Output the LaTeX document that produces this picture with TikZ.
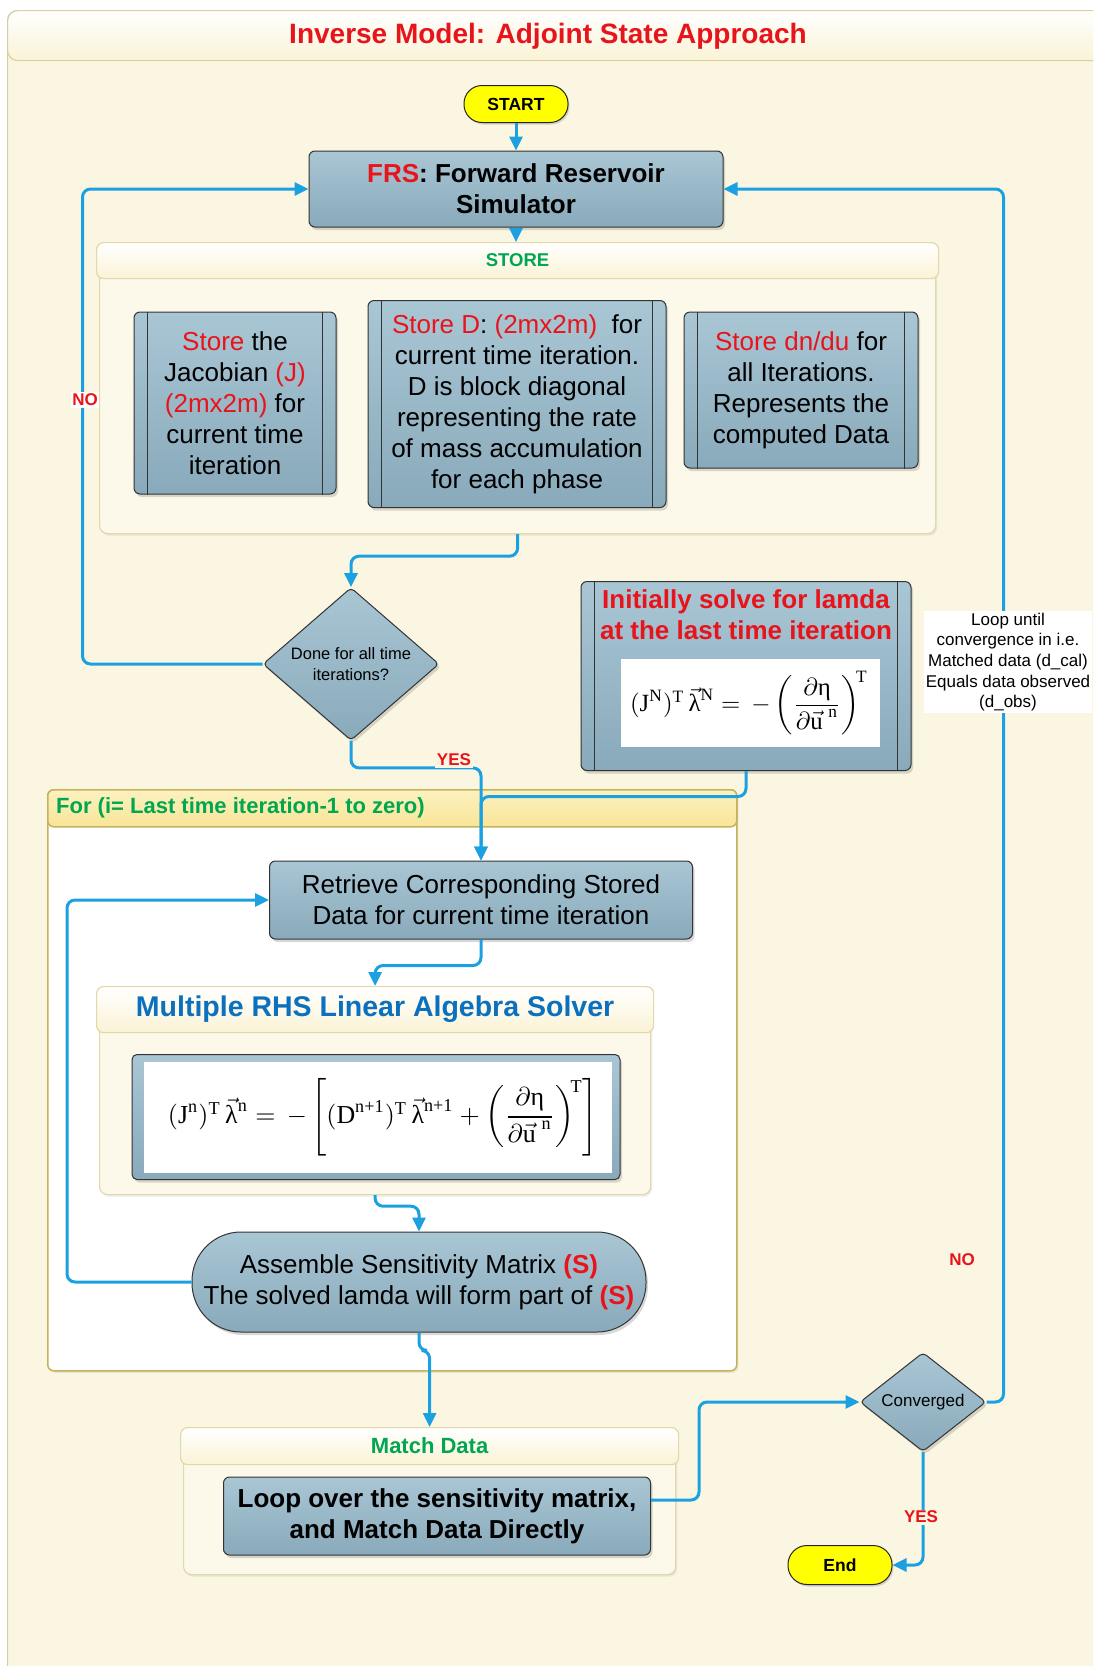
\documentclass[tikz,border=0pt]{standalone}
\usepackage{amsmath}
\usepackage{graphicx}
\usepackage[no-math]{fontspec}
\setmainfont{Liberation Sans}
\newfontfamily\eqfont{Liberation Serif}
\usetikzlibrary{arrows.meta,shapes.geometric,shadows,calc}

\definecolor{bgcream}{HTML}{FBF6E2}
\definecolor{framedge}{HTML}{D9D0A2}
\definecolor{bandbot}{HTML}{FAF3D6}
\definecolor{panelcream}{HTML}{FDF9EA}
\definecolor{paneledge}{HTML}{E2D8A8}
\definecolor{headcream}{HTML}{FBF3D6}
\definecolor{flowblue}{HTML}{1BA1E2}
\definecolor{boxtop}{HTML}{A9C6D4}
\definecolor{boxbot}{HTML}{89AABB}
\definecolor{alertred}{HTML}{E8141B}
\definecolor{labgreen}{HTML}{00A651}
\definecolor{headblue}{HTML}{0B70BE}
\definecolor{loopedge}{HTML}{C4B35C}
\definecolor{loophdtop}{HTML}{FCF1C0}
\definecolor{loophdbot}{HTML}{F9E597}
\definecolor{termyellow}{HTML}{FFFF00}

\newcommand\rd[1]{\textcolor{alertred}{#1}}
\newcommand\tr[1]{\text{\eqfont #1}}
% arrowed vector whose superscript sits at the usual height
\newcommand\vecsym[1]{{\smash[t]{\vec{\tr{#1}}}\vphantom{\tr{#1}}}}
\newcommand\fsz[2]{\fontsize{#1}{#2}\selectfont}

\tikzset{
  proc/.style={draw=black!80, line width=1pt, top color=boxtop, bottom color=boxbot,
    rounded corners=6pt, align=center, inner sep=0pt, font=\fsz{26}{31},
    drop shadow={shadow xshift=2pt, shadow yshift=-3pt, opacity=0.3}},
  decision/.style={diamond, draw=black!80, line width=1pt, top color=boxtop, bottom color=boxbot,
    rounded corners=4pt, inner sep=0pt, align=center, font=\fsz{16.5}{20.5},
    drop shadow={shadow xshift=2pt, shadow yshift=-3pt, opacity=0.3}},
  terminal/.style={draw=black!85, line width=1pt, fill=termyellow, inner sep=0pt,
    font=\bfseries\fsz{17.5}{21},
    drop shadow={shadow xshift=1.5pt, shadow yshift=-2pt, opacity=0.3}},
  panel/.style={draw=paneledge, line width=1.2pt, fill=panelcream, rounded corners=8pt, inner sep=0pt,
    drop shadow={shadow xshift=1.5pt, shadow yshift=-2pt, opacity=0.15}},
  panelhead/.style={draw=paneledge, line width=1.2pt, top color=white, bottom color=headcream,
    rounded corners=7pt, inner sep=0pt},
  flow/.style={draw=flowblue, line width=3pt, rounded corners=8pt, -{Triangle[length=14pt,width=13pt]}},
  tag/.style={text=alertred, font=\bfseries\fsz{17}{20}, inner sep=1.5pt},
}

\begin{document}
\begin{tikzpicture}[x=1pt, y=-1pt]
  \useasboundingbox (0,0) rectangle (1093,1666);
  \clip (0,0) rectangle (1093,1666);
  \fill[white] (0,0) rectangle (1093,1666);

  % outer frame and title band
  \node[draw=framedge, line width=1.2pt, fill=bgcream, rounded corners=10pt, inner sep=0pt,
        anchor=north west, minimum width=1110pt, minimum height=1700pt] (frame) at (7,10) {};
  \node[draw=framedge, line width=1.2pt, top color=white, bottom color=bandbot, rounded corners=10pt,
        inner sep=0pt, anchor=north west, minimum width=1110pt, minimum height=50pt] (band) at (7,10) {};
  \node[text=alertred, font=\bfseries\fsz{28}{32}] (title) at (548,36) {Inverse Model: Adjoint State Approach};

  % containers
  \node[panel, anchor=north west, minimum width=836pt, minimum height=291pt] (store) at (99,242) {};
  \node[panelhead, anchor=north west, minimum width=842pt, minimum height=36pt,
        text=labgreen, font=\bfseries\fsz{18.5}{22}] (storehd) at (96,242) {STORE};

  \node[draw=loopedge, line width=1.5pt, fill=white, rounded corners=6pt, inner sep=0pt,
        anchor=north west, minimum width=689pt, minimum height=581pt,
        drop shadow={shadow xshift=1.5pt, shadow yshift=-2pt, opacity=0.15}] (forbox) at (47,789) {};
  \node[draw=loopedge, line width=1.5pt, top color=loophdtop, bottom color=loophdbot, rounded corners=6pt,
        inner sep=0pt, anchor=north west, minimum width=689pt, minimum height=37pt] (forhd) at (47,789) {};
  \node[anchor=west, text=labgreen, font=\bfseries\fsz{22}{26}, inner sep=0pt] (forlbl) at (56,808)
        {For (i= Last time iteration-1 to zero)};

  \node[panel, anchor=north west, minimum width=551pt, minimum height=208pt] (rhs) at (99,986) {};
  \node[panelhead, anchor=north west, minimum width=557pt, minimum height=46pt,
        text=headblue, font=\bfseries\fsz{28.5}{32}] (rhshd) at (96,986) {Multiple RHS Linear Algebra Solver};

  \node[panel, anchor=north west, minimum width=492pt, minimum height=147pt] (match) at (183,1427) {};
  \node[panelhead, anchor=north west, minimum width=498pt, minimum height=37pt,
        text=labgreen, font=\bfseries\fsz{22}{26}] (matchhd) at (180,1427) {Match Data};

  % terminals
  \node[terminal, rounded corners=18pt, minimum width=104pt, minimum height=37pt] (start) at (516,104) {START};
  \node[terminal, rounded corners=19pt, minimum width=104pt, minimum height=39pt] (end) at (840,1565) {End};

  % process steps
  \node[proc, minimum width=414pt, minimum height=76pt, font=\bfseries\fsz{26}{31}] (frs) at (516,189)
        {\rd{FRS}: Forward Reservoir\\Simulator};
  \node[proc, minimum width=202pt, minimum height=182pt] (sj) at (235,403)
        {\rd{Store} the\\Jacobian \rd{(J)}\\\rd{(2mx2m)} for\\current time\\iteration};
  \node[proc, minimum width=298pt, minimum height=207pt] (sd) at (517,404)
        {\rd{Store D}: \rd{(2mx2m)}\ \ for\\current time iteration.\\D is block diagonal\\representing the rate\\of mass accumulation\\for each phase};
  \node[proc, minimum width=234pt, minimum height=156pt] (sdn) at (801,390)
        {\rd{Store dn/du} for\\all Iterations.\\Represents the\\computed Data};

  \node[decision, minimum width=176pt, minimum height=136pt] (dn) at (351,664) {Done for all time\\iterations?};

  \node[proc, minimum width=330pt, minimum height=189pt] (init) at (746,676) {};
  \node[text=alertred, font=\bfseries\fsz{26}{31}, align=center, inner sep=0pt] (inittitle) at (746,615)
        {Initially solve for lamda\\at the last time iteration};
  \node[fill=white, inner sep=0pt, minimum width=259pt, minimum height=88pt] (eqoneArea) at (750,703) {};
  \node[inner sep=0pt] (eqone) at (749,703)
        {\resizebox{238pt}{!}{$(\tr{J}^{\tr{N}})^{\tr{T}}\,\vecsym{λ}^{\tr{N}} = \,-\left(\dfrac{\partial\tr{η}}{\partial\vec{\tr{u}}^{\;\tr{n}}}\right)^{\!\tr{T}}$}};

  \node[proc, minimum width=423pt, minimum height=78pt] (rt) at (481,900)
        {Retrieve Corresponding Stored\\Data for current time iteration};

  \node[proc, rounded corners=5pt, minimum width=488pt, minimum height=125pt] (eqframe) at (376,1117) {};
  \node[fill=white, inner sep=0pt, minimum width=468pt, minimum height=111pt] (eqtwoArea) at (378,1117) {};
  \node[inner sep=0pt] (eqtwo) at (383,1117)
        {\resizebox{430pt}{!}{$(\tr{J}^{\tr{n}})^{\tr{T}}\,\vecsym{λ}^{\tr{n}} = \,-\left[(\tr{D}^{\tr{n+1}})^{\tr{T}}\,\vecsym{λ}^{\tr{n+1}} + \left(\dfrac{\partial\tr{η}}{\partial\vec{\tr{u}}^{\;\tr{n}}}\right)^{\!\tr{T}}\right]$}};

  \node[proc, rounded corners=49pt, minimum width=454pt, minimum height=100pt] (asm) at (419,1282)
        {Assemble Sensitivity Matrix \rd{\textbf{(S)}}\\The solved lamda will form part of \rd{\textbf{(S)}}};

  \node[proc, minimum width=427pt, minimum height=78pt, font=\bfseries\fsz{26}{31}] (lp) at (437,1516)
        {Loop over the sensitivity matrix,\\and Match Data Directly};

  \node[decision, minimum width=126pt, minimum height=95pt, font=\fsz{17}{20}] (cv) at (923,1402) {Converged};

  % inner rules of the predefined-process boxes
  \foreach \b in {sj,sd,sdn,init}{
    \draw[black!80, line width=1pt] ([xshift=14pt]\b.north west) -- ([xshift=14pt]\b.south west);
    \draw[black!80, line width=1pt] ([xshift=-14pt]\b.north east) -- ([xshift=-14pt]\b.south east);
  }

  % connectors
  \draw[flow] (start.south) -- (frs.north);
  \draw[flow] (frs.south) -- (frs.south |- storehd.north);
  \draw[flow] (store.south) -- ++(0,22) -| (dn.north);
  \draw[flow] (dn.west) -| ($(frs.west)+(-226,0)$) -- (frs.west);
  \draw[flow] (dn.south) -- ++(0,27) -| (rt.north);
  \draw[flow] (init.south) |- ($(rt.north)+(0,-64)$) -- (rt.north);
  \draw[flow] (rt.south) -- ++(0,26) -| (rhshd.north);
  \draw[flow] (rhs.south) -- ++(0,11) -| (asm.north);
  \draw[flow] (asm.west) -| ($(rt.west)+(-202,0)$) -- (rt.west);
  \draw[flow] (asm.south) -- ++(0,18) -| (matchhd.north);
  \draw[flow] ([yshift=16pt]lp.east) -- ++(48,0) |- (cv.west);
  \draw[flow] (cv.east) -| ($(frs.east)+(280,0)$) -- (frs.east);
  \draw[flow] (cv.south) |- (end.east);

  % connector labels
  \node[tag, fill=white] (noleft) at (85,400) {NO};
  \node[tag, fill=bgcream] (yesdone) at (454,760) {YES};
  \node[tag] (noright) at (962,1260) {NO};
  \node[tag, fill=bgcream] (yesconv) at (921,1517) {YES};

  \node[fill=white, align=center, inner sep=2pt, font=\fsz{17}{20.7}] (note) at (1008,662)
        {Loop until\\convergence in i.e.\\Matched data (d\_cal)\\Equals data observed\\(d\_obs)};
\end{tikzpicture}
\end{document}
